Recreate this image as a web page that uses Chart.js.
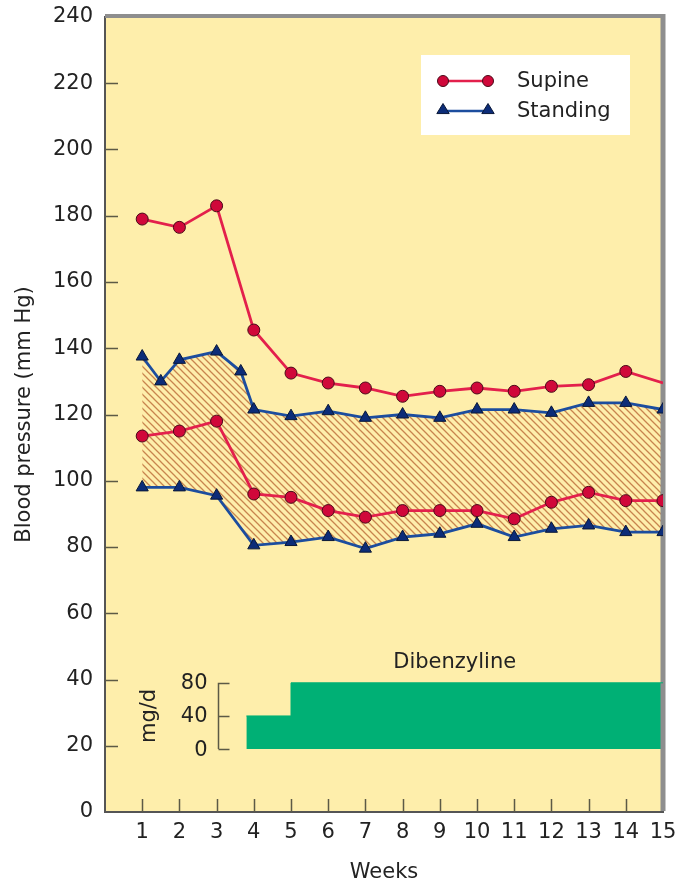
<!DOCTYPE html>
<html>
<head>
<meta charset="utf-8">
<script src="https://cdn.jsdelivr.net/npm/chart.js@4.4.1/dist/chart.umd.min.js"></script>
<style>
  html, body { margin: 0; padding: 0; background: #ffffff; }
  #wrap { width: 676px; height: 884px; position: relative; }
</style>
</head>
<body>
<div id="wrap"><canvas id="c"></canvas></div>
<script>
// Blood pressure (mm Hg) by week
const weeks = [1, 2, 3, 4, 5, 6, 7, 8, 9, 10, 11, 12, 13, 14, 15];
const supineSystolic  = [179, 176.5, 183, 145.5, 132.5, 129.5, 128, 125.5, 127, 128, 127, 128.5, 129, 133, 129.5];
const supineDiastolic = [113.5, 115, 118, 96, 95, 91, 89, 91, 91, 91, 88.5, 93.5, 96.5, 94, 94];

const standingSysWeeks = [1, 1.5, 2, 3, 3.65, 4, 5, 6, 7, 8, 9, 10, 11, 12, 13, 14, 15];
const standingSystolic = [137.5, 130, 136.5, 139, 133, 121.5, 119.5, 121, 119, 120, 119, 121.5, 121.5, 120.5, 123.5, 123.5, 121.5];
const standingDiastolic = [98, 98, 95.5, 80.5, 81.5, 83, 79.5, 83, 84, 87, 83, 85.5, 86.5, 84.5, 84.5];

// Dibenzyline dose (mg/d): 40 mg/d from late week 3, 80 mg/d from week 5
const doseWeeks = [3.8, 5, 5, 15];
const doseMg = [40, 40, 80, 80];
const doseTicks = [0, 40, 80];

const yTicks = [0, 20, 40, 60, 80, 100, 120, 140, 160, 180, 200, 220, 240];

const FONT = '"DejaVu Sans", Verdana, sans-serif';
const FONT_SIZE = 21;
const TEXT = '#222222';
const PLOT_BG = '#feeeab';
const RED_LINE = '#e3204c';
const RED_DOT = '#d0083a';
const RED_EDGE = '#4a0a18';
const BLUE_LINE = '#1c4d9e';
const BLUE_DOT = '#0c2c78';
const BLUE_EDGE = '#0a1838';
const GREEN = '#00b075';
const TICK = '#5c5a46';

function xy(xs, ys) { return ys.map((v, i) => ({ x: xs[i], y: v })); }

// diagonal hatch for the standing pressure band
function hatchPattern() {
  const s = 7;
  const c = document.createElement('canvas');
  c.width = s; c.height = s;
  const g = c.getContext('2d');
  g.strokeStyle = '#c8844e';
  g.lineWidth = 1.3;
  g.beginPath();
  g.moveTo(-1, -1); g.lineTo(s + 1, s + 1);
  g.moveTo(-1, s - 1); g.lineTo(1, s + 1);
  g.moveTo(s - 1, -1); g.lineTo(s + 1, 1);
  g.stroke();
  return g.createPattern(c, 'repeat');
}

function drawTriangle(ctx, x, y, r) {
  ctx.beginPath();
  ctx.moveTo(x, y - r);
  ctx.lineTo(x + r * 0.95, y + r * 0.55);
  ctx.lineTo(x - r * 0.95, y + r * 0.55);
  ctx.closePath();
}

const decor = {
  id: 'decor',
  beforeDraw(chart) {
    const { ctx, chartArea: a } = chart;
    ctx.save();
    ctx.fillStyle = PLOT_BG;
    ctx.fillRect(a.left, a.top, a.right - a.left, a.bottom - a.top);
    ctx.restore();
  },
  beforeDatasetsDraw(chart) {
    const { ctx, chartArea: a, scales } = chart;
    ctx.save();
    // frame on top and right
    ctx.strokeStyle = '#8e8e8e';
    ctx.lineWidth = 4;
    ctx.beginPath();
    ctx.moveTo(a.left, a.top - 1);
    ctx.lineTo(a.right + 2, a.top - 1);
    ctx.stroke();
    ctx.lineWidth = 5;
    ctx.beginPath();
    ctx.moveTo(a.right, a.top - 3);
    ctx.lineTo(a.right, a.bottom - 1);
    ctx.stroke();
    // inward tick marks
    ctx.strokeStyle = TICK;
    ctx.lineWidth = 1.5;
    ctx.beginPath();
    yTicks.slice(1, -1).forEach(v => {
      const y = Math.round(scales.y.getPixelForValue(v)) + 0.5;
      ctx.moveTo(a.left, y); ctx.lineTo(a.left + 13, y);
    });
    weeks.slice(0, -1).forEach(w => {
      const x = Math.round(scales.x.getPixelForValue(w)) + 0.5;
      ctx.moveTo(x, a.bottom); ctx.lineTo(x, a.bottom - 13);
    });
    ctx.stroke();
    ctx.restore();
  },
  afterDraw(chart) {
    const { ctx, chartArea: a, scales } = chart;
    const x = scales.x, y2 = scales.y2;
    ctx.save();
    ctx.font = FONT_SIZE + 'px ' + FONT;
    ctx.fillStyle = TEXT;

    // dose inset axis
    const bx = Math.round(x.getPixelForValue(3.03)) + 0.5;
    ctx.strokeStyle = TICK;
    ctx.lineWidth = 1.5;
    ctx.beginPath();
    const top = y2.getPixelForValue(doseTicks[doseTicks.length - 1]);
    const bot = y2.getPixelForValue(doseTicks[0]);
    ctx.moveTo(bx, top); ctx.lineTo(bx, bot);
    doseTicks.forEach(v => {
      const py = Math.round(y2.getPixelForValue(v)) + 0.5;
      ctx.moveTo(bx, py); ctx.lineTo(bx + 11, py);
    });
    ctx.stroke();
    ctx.textAlign = 'right';
    ctx.textBaseline = 'middle';
    doseTicks.forEach(v => {
      ctx.fillText(String(v), bx - 11, y2.getPixelForValue(v) + 1);
    });
    ctx.save();
    ctx.translate(x.getPixelForValue(1.2), (top + bot) / 2);
    ctx.rotate(-Math.PI / 2);
    ctx.textAlign = 'center';
    ctx.fillText('mg/d', 0, 0);
    ctx.restore();

    ctx.textAlign = 'center';
    ctx.fillText('Dibenzyline', x.getPixelForValue(9.4), y2.getPixelForValue(105));

    // legend
    const lx = a.right - 242, ly = a.top + 38;
    ctx.fillStyle = '#ffffff';
    ctx.fillRect(lx, ly, 209, 80);
    const rows = [
      { label: 'Supine', y: ly + 26, line: RED_LINE, fill: RED_DOT, edge: RED_EDGE, tri: false },
      { label: 'Standing', y: ly + 56, line: BLUE_LINE, fill: BLUE_DOT, edge: BLUE_EDGE, tri: true }
    ];
    rows.forEach(r => {
      const x1 = lx + 22, x2 = lx + 67;
      ctx.strokeStyle = r.line;
      ctx.lineWidth = 2.5;
      ctx.beginPath(); ctx.moveTo(x1, r.y); ctx.lineTo(x2, r.y); ctx.stroke();
      [x1, x2].forEach(px => {
        ctx.fillStyle = r.fill;
        ctx.strokeStyle = r.edge;
        ctx.lineWidth = 1;
        if (r.tri) { drawTriangle(ctx, px, r.y - 1, 6.5); }
        else { ctx.beginPath(); ctx.arc(px, r.y, 5.5, 0, Math.PI * 2); }
        ctx.fill(); ctx.stroke();
      });
      ctx.fillStyle = TEXT;
      ctx.textAlign = 'left';
      ctx.textBaseline = 'middle';
      ctx.fillText(r.label, lx + 96, r.y + 1);
    });
    ctx.restore();
  }
};

Chart.defaults.font.family = FONT;
Chart.defaults.font.size = FONT_SIZE;
Chart.defaults.color = TEXT;

new Chart(document.getElementById('c'), {
  type: 'line',
  data: {
    datasets: [
      {
        label: 'Supine',
        data: xy(weeks, supineSystolic),
        borderColor: RED_LINE, borderWidth: 2.8,
        pointStyle: 'circle',
        pointRadius: weeks.map((w, i) => i === weeks.length - 1 ? 0 : 6),
        pointBackgroundColor: RED_DOT, pointBorderColor: RED_EDGE, pointBorderWidth: 1,
        fill: false, tension: 0, order: 1
      },
      {
        label: 'Supine diastolic',
        data: xy(weeks, supineDiastolic),
        borderColor: RED_LINE, borderWidth: 2.8,
        pointStyle: 'circle', pointRadius: 6,
        pointBackgroundColor: RED_DOT, pointBorderColor: RED_EDGE, pointBorderWidth: 1,
        fill: false, tension: 0, order: 1
      },
      {
        label: 'Standing',
        data: xy(standingSysWeeks, standingSystolic),
        borderColor: BLUE_LINE, borderWidth: 2.8,
        pointStyle: 'triangle', pointRadius: 7,
        pointBackgroundColor: BLUE_DOT, pointBorderColor: BLUE_EDGE, pointBorderWidth: 1,
        fill: false, tension: 0, order: 2
      },
      {
        label: 'Standing diastolic',
        data: xy(weeks, standingDiastolic),
        borderColor: BLUE_LINE, borderWidth: 2.8,
        pointStyle: 'triangle', pointRadius: 7,
        pointBackgroundColor: BLUE_DOT, pointBorderColor: BLUE_EDGE, pointBorderWidth: 1,
        fill: { target: 2 }, backgroundColor: hatchPattern(),
        tension: 0, order: 2
      },
      {
        label: 'Dibenzyline',
        yAxisID: 'y2',
        data: xy(doseWeeks, doseMg),
        borderColor: GREEN, borderWidth: 1,
        backgroundColor: GREEN,
        pointRadius: 0,
        fill: 'origin', tension: 0, order: 3
      }
    ]
  },
  options: {
    responsive: true,
    maintainAspectRatio: false,
    animation: false,
    events: [],
    layout: { padding: { top: 17, right: 13, left: 0, bottom: 0 } },
    plugins: {
      legend: { display: false },
      tooltip: { enabled: false },
      filler: { drawTime: 'beforeDatasetsDraw' }
    },
    scales: {
      x: {
        type: 'linear', min: 0, max: 15,
        grid: { display: false, drawTicks: false },
        border: { display: true, color: '#555555', width: 2 },
        ticks: {
          stepSize: 1, autoSkip: false, padding: 8, maxRotation: 0,
          callback: v => (v === 0 ? '' : String(v))
        },
        title: {
          display: true, text: 'Weeks',
          font: { lineHeight: 1.0 },
          padding: { top: 0, bottom: 1 }
        },
        afterFit(scale) {
          scale.height = 72;
          scale.paddingLeft = 0;
          scale.paddingRight = 0;
        }
      },
      y: {
        type: 'linear', min: 0, max: 240,
        grid: { display: false, drawTicks: false },
        border: { display: true, color: '#555555', width: 2 },
        ticks: { stepSize: 20, padding: 12 },
        afterBuildTicks(scale) { scale.ticks = yTicks.map(v => ({ value: v })); },
        title: { display: true, text: 'Blood pressure (mm Hg)', padding: { top: 12, bottom: 0 } },
        afterFit(scale) {
          scale.width = 105;
          scale.paddingTop = 0;
          scale.paddingBottom = 0;
        }
      },
      y2: {
        type: 'linear', display: false, min: -76, max: 884
      }
    }
  },
  plugins: [decor]
});
</script>
</body>
</html>
